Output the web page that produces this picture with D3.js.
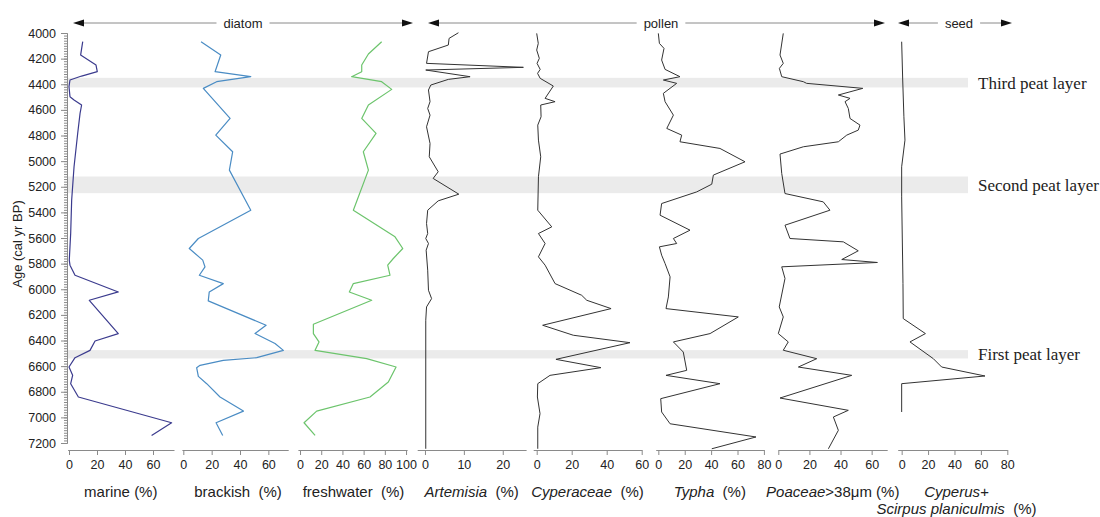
<!DOCTYPE html>
<html>
<head>
<meta charset="utf-8">
<script src="https://cdn.jsdelivr.net/npm/d3@7"></script>
<style>
  body { margin: 0; background: #fff; }
  svg { display: block; font-family: "Liberation Sans", Arial, sans-serif; }
</style>
</head>
<body>
<svg id="chart" width="1100" height="517"></svg>
<script>
// ---- data: [age (cal yr BP), percent] ----
const marine = [[4068,9.8],[4172,8.3],[4250,19.3],[4302,20.2],[4336,9],[4367,0.7],[4419,0],[4497,0.7],[4523,3.6],[4562,9],[4627,7.9],[4784,6.2],[5044,3.6],[5305,1.9],[5565,1.2],[5773,0.2],[5812,0.7],[5891,4.3],[6021,35.2],[6086,14.5],[6346,35.2],[6404,18.6],[6477,15],[6534,4.3],[6607,0],[6672,2.6],[6737,1.2],[6841,6.7],[7042,73.3],[7141,59]];
const brackish = [[4068,12.5],[4172,26.4],[4302,22.4],[4341,47.6],[4380,23.5],[4432,14.1],[4667,33],[4797,22.9],[4927,34.8],[5070,32.5],[5383,47.6],[5604,10.6],[5682,4.2],[5773,13.7],[5826,15.3],[5891,11.3],[5956,28.2],[6021,18.3],[6091,17.6],[6281,58.4],[6346,50.6],[6424,64.7],[6477,70.6],[6534,51.8],[6555,28.2],[6594,11.8],[6612,9.4],[6680,10.6],[6737,16.5],[6841,25.9],[6951,42.4],[7042,23.1],[7141,27.8]];
const freshwater = [[4068,77],[4164,64.5],[4250,58.2],[4302,58.2],[4341,48.7],[4380,77],[4440,86.5],[4562,64.5],[4667,58.2],[4784,71.7],[4927,59.7],[5070,64.5],[5383,50.3],[5591,89.6],[5682,96.9],[5760,88],[5812,82.7],[5891,84.9],[5956,50.3],[6021,46.5],[6086,67.6],[6273,12.6],[6346,12.6],[6411,17.9],[6477,14.2],[6542,62.9],[6607,90.6],[6724,83.3],[6841,66],[6951,15.7],[7042,3.8],[7141,14.2]];
const artemisia = [[3998,8.6],[4042,6.2],[4094,6],[4146,0.9],[4237,0.4],[4268,25.3],[4289,0.2],[4341,11.6],[4362,6],[4406,1.5],[4445,0.9],[4536,1.3],[4589,0.7],[4641,1.3],[4732,0.4],[4862,1.3],[4966,1.1],[5083,3.4],[5135,2.1],[5258,8.7],[5310,3.4],[5383,0.7],[5487,0.4],[5565,0.7],[5604,0.2],[5643,0.9],[5695,0.3],[5851,0.7],[6008,0.9],[6073,1.7],[6138,0.4],[6242,0.2],[7245,0.2]];
const cyperaceae = [[4003,0],[4081,0.9],[4133,0],[4198,1.5],[4237,0.2],[4284,2],[4315,0.5],[4354,2],[4414,9.5],[4510,4.8],[4536,10.5],[4562,2.3],[4654,2.5],[4719,0.6],[4836,1],[4966,2.3],[5122,1],[5383,0.6],[5513,8.6],[5565,1],[5643,4.8],[5747,1],[5812,4.8],[5956,10.5],[6047,25.7],[6086,28.6],[6151,42.5],[6281,3.4],[6359,20.9],[6417,53.3],[6547,11],[6612,36.7],[6672,7.6],[6737,0.6],[6841,0.4],[6971,1.9],[7076,0.6],[7245,0.6]];
const typha = [[4003,0],[4081,0.8],[4120,4.3],[4211,2.5],[4284,5.1],[4341,16.4],[4367,3.8],[4393,13.9],[4471,3.8],[4536,5.1],[4641,11.4],[4745,6.4],[4797,17.7],[4849,16.4],[4901,46.7],[5005,65.7],[5109,41.7],[5180,40.5],[5240,29.1],[5331,2.5],[5422,1.3],[5539,24],[5604,11.4],[5643,13.9],[5669,0.8],[5734,2.5],[5799,5.1],[5903,8.9],[6060,7.6],[6151,5.8],[6216,60.6],[6346,39.2],[6411,11.4],[6490,18.9],[6633,21.5],[6672,5.8],[6737,46.7],[6854,1.8],[6958,2.5],[7050,8.9],[7153,74],[7245,40.5]];
const poaceae = [[4003,3.2],[4172,1.1],[4237,3.2],[4276,0.7],[4341,2.2],[4380,16.1],[4393,18.2],[4432,54.3],[4484,38.6],[4510,46.1],[4536,42.9],[4589,45],[4667,46.1],[4719,52.5],[4758,51.4],[4797,44],[4849,38.6],[4888,16.1],[4945,1.1],[5096,2.2],[5253,4.3],[5318,28.9],[5383,33.2],[5500,4.3],[5604,7.5],[5630,41.8],[5700,51.4],[5768,40.8],[5791,63.7],[5825,2.2],[5916,4.3],[6138,0.6],[6216,3.2],[6346,0],[6411,6.4],[6476,3.2],[6542,24.7],[6607,12.9],[6672,47.2],[6849,1.1],[6945,45],[6997,35.4],[7101,38.6],[7245,32.2]];
const cyperusScirpus = [[4068,0],[4367,0.8],[4654,1.7],[4836,2.5],[5044,0],[5279,0],[5956,1],[6229,1.2],[6346,18],[6411,6.3],[6542,24],[6607,30.3],[6677,63.1],[6737,0],[6958,0]];

// peat layers (age ranges) and their names
const peatLayers = [[4350,4425],[5120,5250],[6475,6540]];
const peatNames = ["Third peat layer","Second peat layer","First peat layer"];

// ---- layout ----
const svg = d3.select('#chart');
const yAxisX = 67;
const baseY = 450;           // bottom axes
const y = d3.scaleLinear().domain([4000, 7200]).range([33, 443]);

// panel definitions: title is a list of lines, each a list of [text, italic] segments
const panels = [
  { data: marine, domain: [-1, 75], range: [67.6, 174], ticks: [0,20,40,60], color: '#3b3b8e', w: 1.2,
    title: [[['marine (%)', false]]] },
  { data: brackish, domain: [-1, 74], range: [181.9, 288.2], ticks: [0,20,40,60], color: '#4a8cc4', w: 1.2,
    title: [[['brackish  (%)', false]]], dx: 3 },
  { data: freshwater, domain: [-2, 101], range: [297.9, 407.1], ticks: [0,20,40,60,80,100], color: '#6cc46c', w: 1.2,
    title: [[['freshwater  (%)', false]]], dx: 1 },
  { data: artemisia, domain: [-2, 26], range: [417.2, 526.1], ticks: [0,10,20], color: '#333', w: 1,
    title: [[['Artemisia', true], ['  (%)', false]]] },
  { data: cyperaceae, domain: [-2, 60], range: [533.2, 641.7], ticks: [0,20,40,60], color: '#333', w: 1,
    title: [[['Cyperaceae', true], ['  (%)', false]]] },
  { data: typha, domain: [-2, 80], range: [655.7, 763.9], ticks: [0,20,40,60,80], color: '#333', w: 1,
    title: [[['Typha', true], ['  (%)', false]]] },
  { data: poaceae, domain: [0, 70], range: [778.3, 887.2], ticks: [0,20,40,60], color: '#333', w: 1,
    title: [[['Poaceae', true], ['>38\u03bcm (%)', false]]] },
  { data: cyperusScirpus, domain: [-3, 80], range: [897.7, 1007.3], ticks: [0,20,40,60,80], color: '#333', w: 1,
    title: [[['Cyperus+', true]], [['Scirpus planiculmis', true], ['  (%)', false]]], dx: 4 }
];

// group headers with arrows
const groups = [
  { name: 'diatom', x0: 73, x1: 413, cx: 243 },
  { name: 'pollen', x0: 428, x1: 885, cx: 661 },
  { name: 'seed',   x0: 898, x1: 1012, cx: 959 }
];

// ---- peat layer bands ----
const bands = svg.append('g').attr('class', 'bands');
bands.selectAll('rect')
  .data(peatLayers)
  .join('rect')
  .attr('x', yAxisX)
  .attr('width', 968 - yAxisX)
  .attr('y', d => y(d[0]))
  .attr('height', d => y(d[1]) - y(d[0]))
  .attr('fill', '#ebebeb');

bands.selectAll('text')
  .data(peatLayers)
  .join('text')
  .attr('x', 978)
  .attr('y', d => (y(d[0]) + y(d[1])) / 2)
  .attr('dy', '0.35em')
  .attr('font-family', '"Liberation Serif", "Times New Roman", serif')
  .attr('font-size', 17)
  .attr('fill', '#222')
  .text((d, i) => peatNames[i]);

// ---- age axis ----
const yMinor = svg.append('g')
  .attr('transform', `translate(${yAxisX},0)`)
  .call(d3.axisLeft(y).tickValues(d3.range(4000, 7201, 20)).tickSize(3).tickFormat(''));
const yMajor = svg.append('g')
  .attr('transform', `translate(${yAxisX},0)`)
  .call(d3.axisLeft(y).tickValues(d3.range(4000, 7201, 200)).tickSize(6).tickSizeOuter(0).tickFormat(d3.format('d')));
[yMinor, yMajor].forEach(g => {
  g.select('.domain').attr('stroke', '#8a8a8a');
  g.selectAll('.tick line').attr('stroke', '#8a8a8a');
});
yMajor.selectAll('text').attr('font-size', 12.5).attr('fill', '#222').attr('font-family', '"Liberation Sans", Arial, sans-serif');
yMajor.selectAll('.tick text').attr('x', -11);

svg.append('text')
  .attr('transform', 'translate(22,244) rotate(-90)')
  .attr('text-anchor', 'middle')
  .attr('font-size', 13)
  .attr('fill', '#222')
  .text('Age (cal yr BP)');

// ---- panels ----
panels.forEach(p => {
  const x = d3.scaleLinear().domain(p.domain).range(p.range);

  const ax = svg.append('g')
    .attr('transform', `translate(0,${baseY})`)
    .call(d3.axisBottom(x).tickValues(p.ticks).tickSize(5).tickSizeOuter(0).tickPadding(5));
  ax.select('.domain').attr('stroke', '#8a8a8a');
  ax.selectAll('.tick line').attr('stroke', '#8a8a8a');
  ax.selectAll('.tick text')
    .attr('font-size', 12.5)
    .attr('fill', '#222')
    .attr('font-family', '"Liberation Sans", Arial, sans-serif');

  const line = d3.line()
    .x(d => x(d[1]))
    .y(d => y(d[0]));
  svg.append('path')
    .datum(p.data)
    .attr('d', line)
    .attr('fill', 'none')
    .attr('stroke', p.color)
    .attr('stroke-width', p.w)
    .attr('stroke-linejoin', 'round');

  // title (one or two lines)
  const cx = (x(p.domain[0]) + x(p.domain[1])) / 2 + (p.dx || 0);
  p.title.forEach((segs, li) => {
    const t = svg.append('text')
      .attr('x', cx)
      .attr('y', 497 + li * 17)
      .attr('text-anchor', 'middle')
      .attr('font-size', 15)
      .attr('fill', '#222')
      .attr('xml:space', 'preserve')
      .style('white-space', 'pre');
    segs.forEach(s => {
      t.append('tspan').attr('font-style', s[1] ? 'italic' : 'normal').text(s[0]);
    });
  });
});

// ---- group headers ----
const gy = 23;
groups.forEach(g => {
  const t = svg.append('text')
    .attr('x', g.cx)
    .attr('y', gy)
    .attr('dy', '0.35em')
    .attr('text-anchor', 'middle')
    .attr('font-size', 13)
    .attr('fill', '#222')
    .text(g.name);
  const half = t.node().getComputedTextLength() / 2;
  const gap = 7;
  svg.append('line')
    .attr('x1', g.x0 + 8).attr('x2', g.cx - half - gap)
    .attr('y1', gy).attr('y2', gy)
    .attr('stroke', '#8a8a8a').attr('stroke-width', 1);
  svg.append('line')
    .attr('x1', g.cx + half + gap).attr('x2', g.x1 - 8)
    .attr('y1', gy).attr('y2', gy)
    .attr('stroke', '#8a8a8a').attr('stroke-width', 1);
  svg.append('path')
    .attr('d', `M${g.x0},${gy} L${g.x0 + 11},${gy - 3.5} L${g.x0 + 11},${gy + 3.5} Z`)
    .attr('fill', '#111');
  svg.append('path')
    .attr('d', `M${g.x1},${gy} L${g.x1 - 11},${gy - 3.5} L${g.x1 - 11},${gy + 3.5} Z`)
    .attr('fill', '#111');
});
</script>
</body>
</html>
